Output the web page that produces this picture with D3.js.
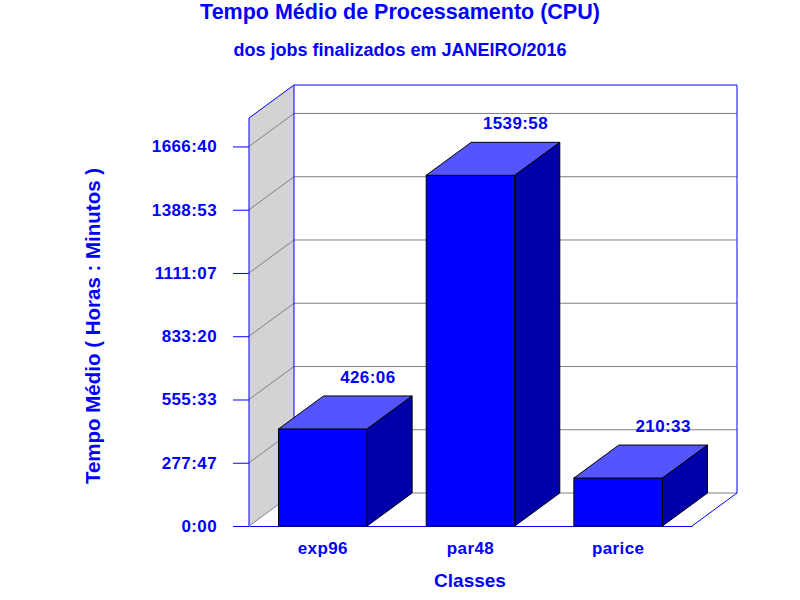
<!DOCTYPE html>
<html>
<head>
<script src='https://d3js.org/d3.v7.min.js'></script>
<title>Tempo Medio</title>
<style>
body {margin:0; background-color:white;}
text {font-family:Arial, 'Liberation Sans', sans-serif; font-weight:bold; fill:#0000ff;}
.axis text {font-size:17px; letter-spacing:0.4px;}
</style>
</head>
<body>
<svg width=800 height=600></svg>

<script>
var classes = ['exp96','par48','parice']
var minutes = [25566, 92398, 12633]
var valueLabels = ['426:06','1539:58','210:33']
var tickMinutes = [0, 16666.67, 33333.33, 50000, 66666.67, 83333.33, 100000]
var tickLabels = ['0:00','277:47','555:33','833:20','1111:07','1388:53','1666:40']
var maxMinutes = 107500

// plot box (front plane) and depth offset
var pLeft = 249
var pRight = 692
var pBottom = 526
var pTop = 118
var dx = 45
var dy = 33

var x = d3.scaleBand().domain(classes).range([pLeft,pRight]).paddingInner(0.4).paddingOuter(0.2);
var y = d3.scaleLinear().domain([0,maxMinutes]).range([pBottom,pTop]);
var bw = x.bandwidth();

var svg = d3.select('svg');

//left wall
svg.append('polygon')
    .attr('points',[[pLeft,pBottom],[pLeft,pTop],[pLeft+dx,pTop-dy],[pLeft+dx,pBottom-dy]].join(' '))
    .attr('fill','#d3d3d3');

//gridlines on wall and back
svg.append('g')
  .selectAll('path')
  .data(tickMinutes)
  .enter()
  .append('path')
    .attr('d',function(d) {return 'M'+pLeft+','+y(d)+'L'+(pLeft+dx)+','+(y(d)-dy)+'L'+(pRight+dx)+','+(y(d)-dy);})
    .attr('fill','none')
    .attr('stroke','#808080')
    .attr('stroke-width',1);

//frame
svg.append('path')
    .attr('d','M'+pLeft+','+pTop+'L'+(pLeft+dx)+','+(pTop-dy)+'L'+(pRight+dx)+','+(pTop-dy)+'L'+(pRight+dx)+','+(pBottom-dy)+'L'+pRight+','+pBottom
        +'M'+(pLeft+dx)+','+(pTop-dy)+'L'+(pLeft+dx)+','+(pBottom-dy))
    .attr('fill','none')
    .attr('stroke','#0000ff')
    .attr('stroke-width',1);

//y axis
var yAxis = svg.append('g')
    .attr('class','axis')
    .attr('transform','translate('+pLeft+',0)')
    .call(d3.axisLeft(y).tickValues(tickMinutes).tickFormat(function(d,i) {return tickLabels[i];}).tickSize(16).tickSizeOuter(0).tickPadding(16));
yAxis.select('.domain').attr('stroke','#0000ff').attr('d','M0,'+pTop+'V'+pBottom);
yAxis.selectAll('line').attr('stroke','#0000ff');

//x axis
var xAxis = svg.append('g')
    .attr('class','axis')
    .attr('transform','translate(0,'+pBottom+')')
    .call(d3.axisBottom(x).tickSize(0).tickPadding(16));
xAxis.select('.domain').attr('stroke','#0000ff');

//bars
var bars = svg.append('g')
  .selectAll('g')
  .data(classes)
  .enter()
  .append('g');

bars.append('rect')
    .attr('x',function(d) {return x(d);})
    .attr('y',function(d,i) {return y(minutes[i]);})
    .attr('width',bw)
    .attr('height',function(d,i) {return pBottom-y(minutes[i]);})
    .attr('fill','#0000ff')
    .attr('stroke','black');

bars.append('polygon')
    .attr('points',function(d,i) {
        var x0 = x(d), x1 = x(d)+bw, yv = y(minutes[i]);
        return [[x0,yv],[x0+dx,yv-dy],[x1+dx,yv-dy],[x1,yv]].join(' ');})
    .attr('fill','#5555ff')
    .attr('stroke','black');

bars.append('polygon')
    .attr('points',function(d,i) {
        var x1 = x(d)+bw, yv = y(minutes[i]);
        return [[x1,yv],[x1+dx,yv-dy],[x1+dx,pBottom-dy],[x1,pBottom]].join(' ');})
    .attr('fill','#0000aa')
    .attr('stroke','black');

//value labels
bars.append('text')
    .attr('text-anchor','middle')
    .attr('x',function(d) {return x(d)+bw/2+dx;})
    .attr('y',function(d,i) {return y(minutes[i])-dy-13;})
    .style('font-size','17px')
    .style('letter-spacing','0.4px')
    .text(function(d,i) {return valueLabels[i];});

//titles
svg.append('text')
    .attr('text-anchor','middle')
    .attr('x',400)
    .attr('y',19)
    .style('font-size','21.5px')
    .text('Tempo Médio de Processamento (CPU)');

svg.append('text')
    .attr('text-anchor','middle')
    .attr('x',400)
    .attr('y',56)
    .style('font-size','18px')
    .text('dos jobs finalizados em JANEIRO/2016');

svg.append('text')
    .attr('text-anchor','middle')
    .attr('x',470)
    .attr('y',587)
    .style('font-size','19px')
    .text('Classes');

svg.append('text')
    .attr('text-anchor','middle')
    .attr('transform','translate(100,326) rotate(-90)')
    .style('font-size','20.5px')
    .text('Tempo Médio ( Horas : Minutos )');
</script>

</body>
</html>
